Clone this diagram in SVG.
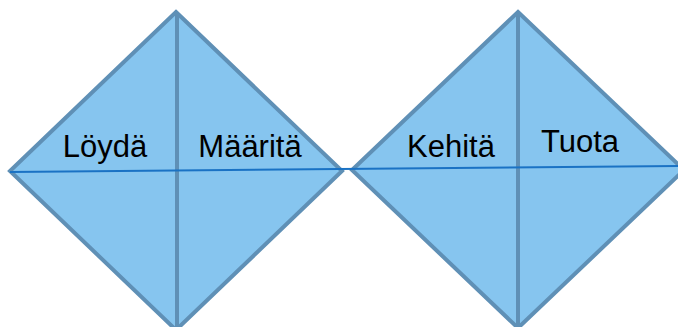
<svg xmlns="http://www.w3.org/2000/svg" width="678" height="327" viewBox="0 0 678 327">
<style>
.dia{fill:#86c5ef;stroke:#5f90b6;stroke-width:4;stroke-linejoin:miter}
.mid{stroke:#5f90b6;stroke-width:4}
.lbl{font-family:"Liberation Sans",Arial,sans-serif;font-size:31px;fill:#000}
.axis{stroke:#1a72c4;stroke-width:2;fill:none}
</style>
<rect width="678" height="327" fill="#fff"/>
<g id="diamond-left">
<polygon class="dia" points="176,12 342,171 176,330 10,171"/>
<line class="mid" x1="177" y1="12" x2="177" y2="330"/>
<text class="lbl" x="105" y="157" text-anchor="middle">Löydä</text>
<text class="lbl" x="250" y="157" text-anchor="middle">Määritä</text>
</g>
<g id="diamond-right">
<polygon class="dia" points="518,12 684,170 518,328 352,170"/>
<line class="mid" x1="518" y1="12" x2="518" y2="328"/>
<text class="lbl" x="451" y="157" text-anchor="middle">Kehitä</text>
<text class="lbl" x="580" y="152" text-anchor="middle">Tuota</text>
</g>
<g id="connectors">
<line class="axis" x1="10" y1="172" x2="678" y2="166"/>
</g>
</svg>
